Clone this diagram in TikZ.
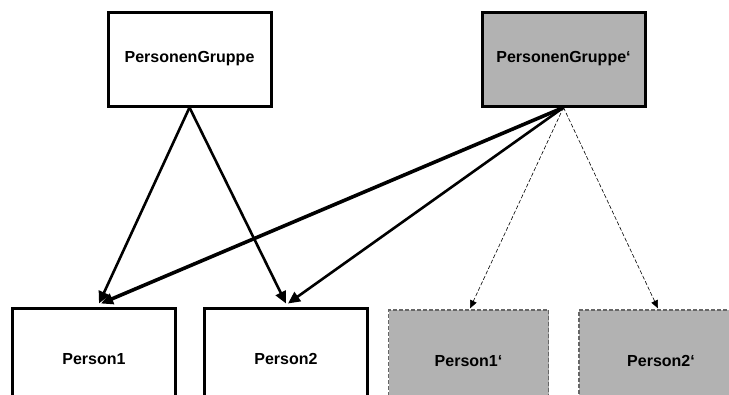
\documentclass[tikz,border=0pt]{standalone}
\usepackage{fontspec}
\setmainfont{Liberation Sans}
\usetikzlibrary{arrows.meta}
\begin{document}
\begin{tikzpicture}[x=1pt,y=-1pt,
  solidbox/.style={draw=black,line width=3pt,fill=white,minimum width=163pt,inner sep=0pt,
    font=\fontsize{16}{18}\selectfont\bfseries},
  group/.style={solidbox,minimum height=94pt},
  shadowgroup/.style={group,fill=gray!60},
  member/.style={solidbox,minimum height=102pt},
  shadowmember/.style={draw=black!60,line width=1.2pt,dash pattern=on 4pt off 2pt,fill=gray!60,
    minimum width=160pt,minimum height=102pt,inner sep=0pt,font=\fontsize{16}{18}\selectfont\bfseries},
  link/.style={line width=2.6pt,-{Triangle[length=12pt,width=11pt]}},
  shadowlink/.style={line width=0.6pt,dash pattern=on 4pt off 2pt,-{Triangle[length=8pt,width=7pt]}}]
\clip (0,0) rectangle (729,394);
\fill[white] (0,0) rectangle (729,394);

% group objects
\node[group] (pg) at (189.5,59) {PersonenGruppe};
\node[shadowgroup] (pgs) at (563.5,59) {PersonenGruppe‘};

% member objects (lower part runs off the page)
\node[member] (p1) at (94,359) {Person1};
\node[member] (p2) at (286,359) {Person2};
\node[shadowmember] (p1s) at (468.5,361) {Person1‘};
\node[shadowmember,minimum width=164pt] (p2s) at (661,361) {Person2‘};

% references from the original group
\draw[link] (pg.south) -- ([xshift=5pt,yshift=3pt]p1.north);
\draw[link] (pg.south) -- ([yshift=3pt]p2.north);

% references from the copied group
\draw[link,line width=3.6pt] (pgs.south) -- ([xshift=7pt,yshift=3pt]p1.north);
\draw[link] (pgs.south) -- ([xshift=2pt,yshift=3pt]p2.north);
\draw[shadowlink] (pgs.south) -- ([xshift=1.5pt,yshift=1pt]p1s.north);
\draw[shadowlink] (pgs.south) -- ([xshift=-3pt,yshift=1pt]p2s.north);
\end{tikzpicture}
\end{document}
